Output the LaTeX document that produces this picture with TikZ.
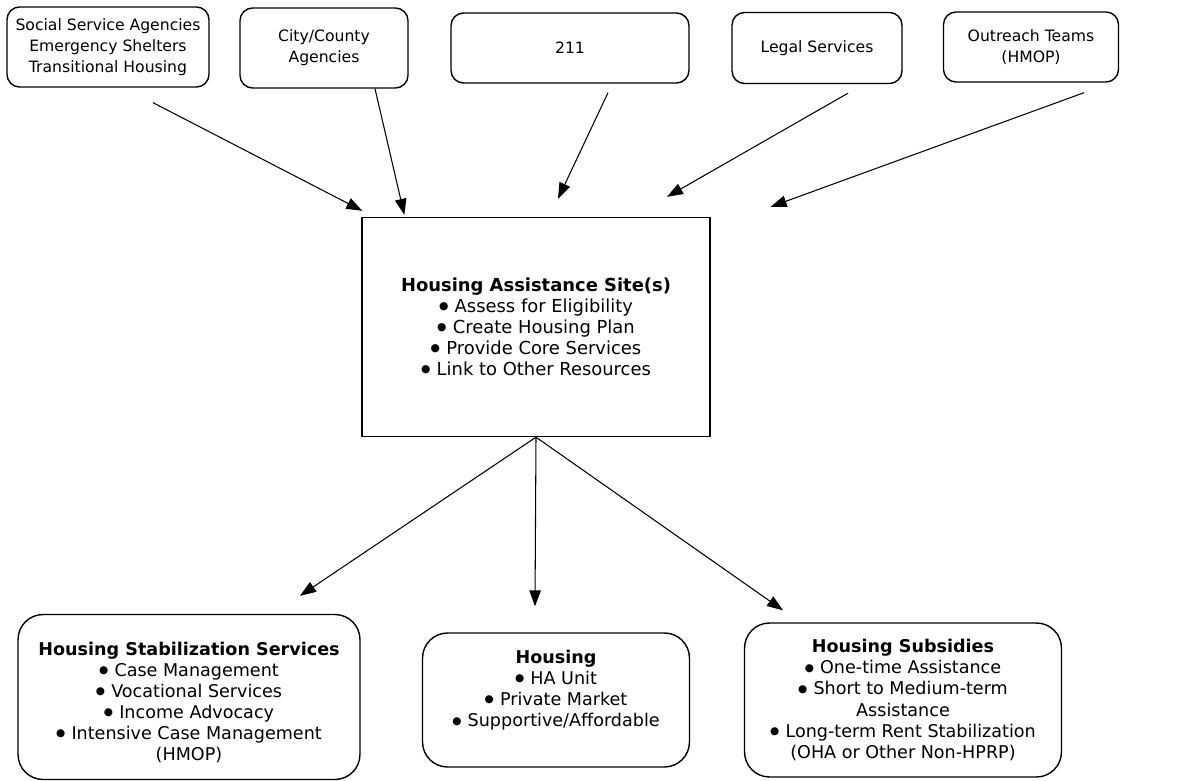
\documentclass[tikz,border=0pt]{standalone}
\usepackage{fontspec}
\setmainfont{DejaVu Sans}
\usepackage{tikz}
\usetikzlibrary{positioning,calc,arrows.meta}

\tikzset{
  srcbox/.style={draw, line width=0.8pt, rounded corners=0.25cm, align=center,
    font=\fontsize{8.9}{11.8}\selectfont, inner sep=0pt},
  sitebox/.style={draw, line width=0.8pt, align=center,
    font=\fontsize{10.2}{12}\selectfont, inner sep=0pt},
  outbox/.style={draw, line width=0.8pt, rounded corners=0.5cm, align=center,
    font=\fontsize{10}{12}\selectfont, inner sep=0pt},
  feed/.style={line width=0.6pt, -{Triangle[length=3.2mm,width=2.3mm]}}
}
\newcommand{\bul}{\raisebox{0.3ex}{\scalebox{0.6}{●}}\hspace{0.35em}}

\begin{document}
\begin{tikzpicture}[x=0.02cm, y=-0.02cm]
    \useasboundingbox (0,0) rectangle (1188,781);

    % referral sources
    \node[srcbox, minimum width=4.04cm, minimum height=1.6cm] (social) at (108,47)
      {Social Service Agencies\\Emergency Shelters\\Transitional Housing};
    \node[srcbox, minimum width=3.36cm, minimum height=1.6cm] (city) at (324,48)
      {City/County\\Agencies};
    \node[srcbox, minimum width=4.76cm, minimum height=1.4cm] (info) at (570,48) {211};
    \node[srcbox, minimum width=3.4cm, minimum height=1.42cm] (legal) at (817,48)
      {Legal Services};
    \node[srcbox, minimum width=3.5cm, minimum height=1.4cm] (outreach) at (1031,47)
      {Outreach Teams\\(HMOP)};

    % assistance site
    \node[sitebox, minimum width=6.96cm, minimum height=4.38cm] (site) at (536,327)
      {\textbf{Housing Assistance Site(s)}\\\bul Assess for Eligibility\\\bul Create Housing Plan\\
       \bul Provide Core Services\\\bul Link to Other Resources};

    % outcomes
    \node[outbox, minimum width=6.84cm, minimum height=3.3cm] (stab) at (189,697)
      {\rule{0pt}{14pt}\textbf{Housing Stabilization Services}\\\bul Case Management\\\bul Vocational Services\\
       \bul Income Advocacy\\\bul Intensive Case Management\\(HMOP)};
    \node[outbox, minimum width=5.34cm, minimum height=2.68cm] (housing) at (556,700)
      {\textbf{Housing}\\\bul HA Unit\\\bul Private Market\\\bul Supportive/Affordable\\[1pt]};
    \node[outbox, minimum width=6.34cm, minimum height=3.08cm] (subsidy) at (903,700)
      {\textbf{Housing Subsidies}\\\bul One-time Assistance\\\bul Short to Medium-term\\Assistance\\
       \bul Long-term Rent Stabilization\\(OHA or Other Non-HPRP)};

    % arrow ends (arrows stop short of the boxes)
    \coordinate (s1) at ($(social.south)+(45,15)$);   \coordinate (e1) at ($(site.north west)+(1,-6)$);
    \coordinate (s2) at ($(city.south)+(51,0)$);      \coordinate (e2) at ($(site.north west)+(43,-2)$);
    \coordinate (s3) at ($(info.south)+(38,9)$);      \coordinate (e3) at ($(site.north)+(22,-18)$);
    \coordinate (s4) at ($(legal.south)+(31,9)$);     \coordinate (e4) at ($(site.north)+(131,-20)$);
    \coordinate (s5) at ($(outreach.south)+(53,10)$); \coordinate (e5) at ($(site.north east)+(60,-10)$);
    \coordinate (d1) at ($(stab.north)+(111,-18)$);
    \coordinate (d2) at ($(housing.north)+(-21,-26)$);
    \coordinate (d3) at ($(subsidy.north)+(-120,-12)$);

    \draw[feed] (s1) -- (e1);
    \draw[feed] (s2) -- (e2);
    \draw[feed] (s3) -- (e3);
    \draw[feed] (s4) -- (e4);
    \draw[feed] (s5) -- (e5);
    \draw[feed] (site.south) -- (d1);
    \draw[feed] (site.south) -- (d2);
    \draw[feed] (site.south) -- (d3);
\end{tikzpicture}
\end{document}
